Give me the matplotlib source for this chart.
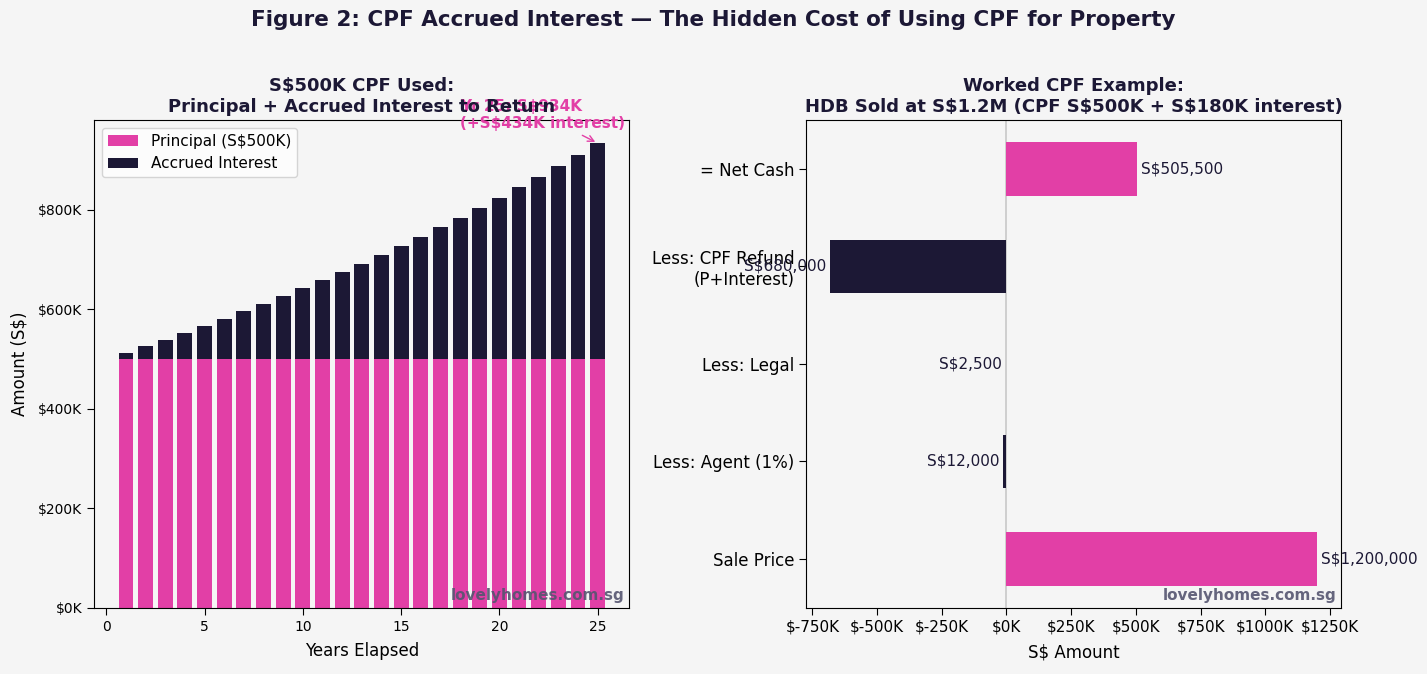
import numpy as np
import matplotlib
matplotlib.use("Agg")
import matplotlib.pyplot as plt
from matplotlib.ticker import FuncFormatter

PINK = "#e23fa6"
NAVY = "#1c1835"
BG = "#f5f5f5"

plt.rcParams["xtick.major.size"] = 5
plt.rcParams["ytick.major.size"] = 5

# Left chart: S$500K principal + accrued interest by year
years = list(range(1, 26))
principal = [500000] * 25
totals = [512600, 525600, 538900, 552500, 566500, 580800, 595500, 610500, 626000,
          641800, 658000, 674700, 691700, 709200, 727100, 745500, 764300, 783600,
          803400, 823700, 844600, 865900, 887800, 910200, 933500]
interest = [t - p for t, p in zip(totals, principal)]

# Right chart: worked sale example
steps = ["Sale Price", "Less: Agent (1%)", "Less: Legal",
         "Less: CPF Refund\n(P+Interest)", "= Net Cash"]
amounts = [1200000, -12000, -2500, -680000, 505500]

fig, (ax1, ax2) = plt.subplots(1, 2, figsize=(14.27, 6.74), dpi=100)
fig.patch.set_facecolor(BG)
for ax in (ax1, ax2):
    ax.set_facecolor(BG)

fig.suptitle("Figure 2: CPF Accrued Interest \u2014 The Hidden Cost of Using CPF for Property",
             fontsize=15.5, fontweight="bold", color="#1c1835", y=0.985)

# --- left
ax1.bar(years, principal, width=0.75, color=PINK, label="Principal (S$500K)")
ax1.bar(years, interest, width=0.75, bottom=principal, color=NAVY, label="Accrued Interest")
ax1.yaxis.set_major_formatter(FuncFormatter(lambda v, p: f"${v/1000:.0f}K"))
ax1.set_xlabel("Years Elapsed", fontsize=12, labelpad=6)
ax1.set_ylabel("Amount (S$)", fontsize=12, labelpad=7)
ax1.set_title("S$500K CPF Used:\nPrincipal + Accrued Interest to Return",
              fontsize=13, fontweight="bold", color="#1c1835")
ax1.tick_params(labelsize=10)
ax1.legend(loc="upper left", fontsize=11, facecolor="white")
ax1.annotate(f"Yr 25: S${totals[-1]/1000:.0f}K\n(+S${interest[-1]/1000:.0f}K interest)",
             xy=(years[-1], totals[-1]), xytext=(22.2, 990000),
             ha="center", va="center", multialignment="left",
             fontsize=11, fontweight="bold", color=PINK,
             arrowprops=dict(arrowstyle="->", color=PINK), annotation_clip=False)
ax1.text(0.99, 0.01, "lovelyhomes.com.sg", transform=ax1.transAxes, ha="right",
         va="bottom", fontsize=11, fontweight="bold", color="#555570", alpha=0.9)

# --- right
colors = [PINK if a > 0 else NAVY for a in amounts]
ax2.barh(steps, amounts, height=0.55, color=colors)
ax2.axvline(0, color="#c8c8c8", linewidth=1.2, zorder=0)
for i, a in enumerate(amounts):
    if a > 0:
        ax2.text(a + 15000, i, f"S${a:,.0f}", ha="left", va="center", fontsize=11, color="#1c1835")
    else:
        ax2.text(a - 15000, i, f"S${-a:,.0f}", ha="right", va="center", fontsize=11, color="#1c1835")
ax2.xaxis.set_major_formatter(FuncFormatter(lambda v, p: f"${v/1000:.0f}K"))
ax2.set_xticks([-750000, -500000, -250000, 0, 250000, 500000, 750000, 1000000, 1250000])
ax2.set_xlabel("S$ Amount", fontsize=12, labelpad=6)
ax2.set_title("Worked CPF Example:\nHDB Sold at S$1.2M (CPF S$500K + S$180K interest)",
              fontsize=13, fontweight="bold", color="#1c1835")
ax2.tick_params(axis="x", labelsize=11)
ax2.tick_params(axis="y", labelsize=12)
ax2.text(0.99, 0.01, "lovelyhomes.com.sg", transform=ax2.transAxes, ha="right",
         va="bottom", fontsize=11, fontweight="bold", color="#555570", alpha=0.9)

plt.subplots_adjust(left=0.066, right=0.94, bottom=0.098, top=0.822, wspace=0.33)
plt.savefig("out.png", dpi=100, facecolor=BG)
